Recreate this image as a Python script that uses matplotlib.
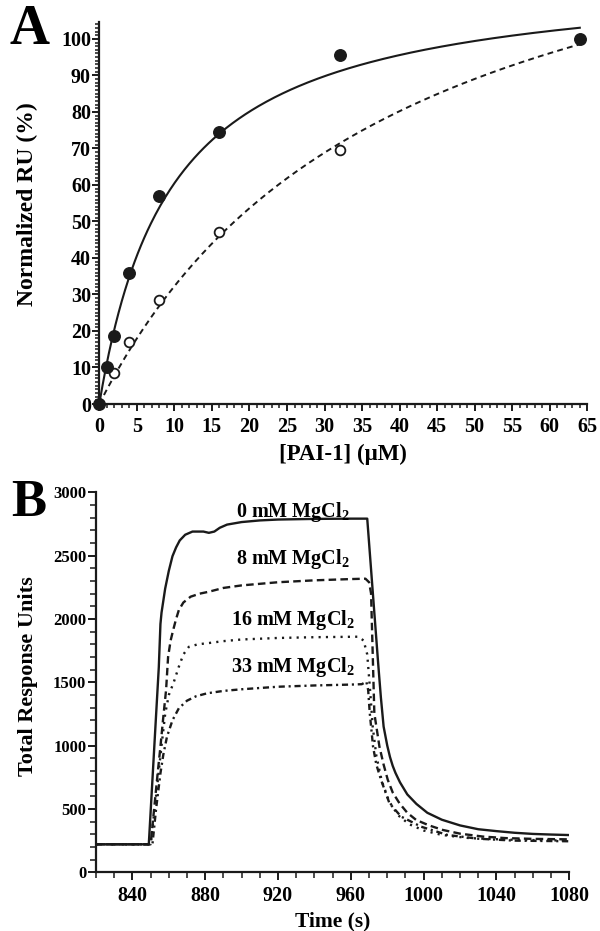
import numpy as np
import matplotlib
matplotlib.use('Agg')
import matplotlib.pyplot as plt

plt.rcParams['font.family'] = ['Liberation Serif', 'DejaVu Serif']
plt.rcParams['font.weight'] = 'bold'
plt.rcParams['mathtext.fontset'] = 'custom'
plt.rcParams['mathtext.rm'] = 'Liberation Serif:bold'
plt.rcParams['mathtext.default'] = 'rm'

# ---- panel A data: [PAI-1] (uM) vs normalized RU (%)
pai_conc = [0, 1, 2, 4, 8, 16, 32, 64]
ru_filled = [0, 10, 18.5, 36, 57, 74.5, 95.5, 100]
pai_conc_open = [2, 4, 8, 16, 32]
ru_open = [8.5, 17, 28.5, 47, 69.5]
# one-site binding fits (Bmax, Kd)
fit_filled = (118.5, 9.6)
fit_open = (159.0, 39.3)

# ---- panel B data: sensorgrams, time (s) vs total RU
t_0mm = [820, 849, 851, 853, 854.5, 855.4, 856, 858, 860, 862, 864, 866, 869, 873, 879, 882,
         885, 888, 892, 900, 910, 920, 940, 960, 969, 972, 975, 976.5, 978, 980, 981.5, 983, 984.5, 987,
         991, 996, 1002, 1010, 1020, 1030, 1040, 1050, 1060, 1070, 1080]
ru_0mm = [221, 221, 730, 1240, 1620, 1960, 2050, 2240, 2380, 2495, 2565, 2620, 2665, 2690, 2690, 2680,
          2690, 2720, 2745, 2765, 2778, 2785, 2790, 2792, 2792, 2220, 1650, 1380, 1150, 1000, 910, 840, 785, 710,
          615, 540, 470, 415, 370, 340, 325, 312, 303, 298, 294]

t_8mm = [820, 850, 852, 854, 855.4, 857, 858.5, 859.6, 861, 862.4, 864, 865.5, 868, 872, 877, 882,
         890, 900, 920, 940, 960, 968, 970, 971.1, 972.9, 975.7, 978, 980.3, 983, 986.7, 991,
         995.9, 1003, 1010.6, 1020, 1032.6, 1045, 1060, 1080]
ru_8mm = [221, 221, 510, 800, 992, 1230, 1440, 1700, 1830, 1913, 2000, 2070, 2130, 2176, 2200, 2215,
          2245, 2265, 2290, 2305, 2315, 2318, 2290, 2202, 1255, 992, 850, 729, 630, 545, 470,
          413, 370, 334, 305, 282, 270, 264, 260]

t_16mm = [820, 850, 853, 856, 858, 860, 862.7, 865.5, 868, 871, 876, 882, 890, 900, 920, 940, 964,
          967, 969, 970.5, 972, 974, 977, 981, 986, 992, 1000, 1010, 1025, 1045, 1080]
ru_16mm = [221, 221, 600, 1000, 1250, 1400, 1500, 1623, 1720, 1780, 1800, 1810, 1825, 1838, 1850, 1856, 1860,
           1830, 1720, 1450, 1150, 920, 720, 560, 450, 380, 330, 295, 270, 258, 250]

t_33mm = [820, 851, 853, 855.4, 857, 859, 862, 865.5, 870, 875, 881, 890, 900, 920, 940, 960, 966,
          968.5, 969.5, 970.4, 972.2, 974, 976.6, 981.2, 987.6, 998.6, 1013, 1030, 1050, 1080]
ru_33mm = [221, 221, 500, 782, 930, 1071, 1200, 1295, 1355, 1390, 1413, 1432, 1445, 1465, 1475, 1482, 1485,
           1505, 1440, 1255, 992, 850, 729, 545, 440, 360, 295, 265, 250, 245]

mg_labels = ['0 mM MgCl$_2$', '8 mM MgCl$_2$', '16 mM MgCl$_2$', '33 mM MgCl$_2$']
mg_label_y = [2844, 2477, 1992, 1623]

fig = plt.figure(figsize=(6, 9.31), dpi=100)


def style_axes(ax):
    for s in ['top', 'right']:
        ax.spines[s].set_visible(False)
    for s in ['left', 'bottom']:
        ax.spines[s].set_linewidth(1.6)
        ax.spines[s].set_color('#1a1a1a')


# ---------------- A
axA = fig.add_axes([99.3 / 600, 1 - 404 / 931, 488 / 600, 382.3 / 931])
style_axes(axA)
x_fit = np.linspace(0, 64, 300)
axA.plot(x_fit, fit_filled[0] * x_fit / (fit_filled[1] + x_fit), color='#1a1a1a', lw=1.5, clip_on=False)
axA.plot(x_fit, fit_open[0] * x_fit / (fit_open[1] + x_fit), color='#1a1a1a', lw=1.4,
         linestyle=(0, (3.0, 2.2)), clip_on=False)
axA.plot(pai_conc_open, ru_open, 'o', ms=7, mfc='white', mec='#1a1a1a', mew=1.3, clip_on=False, zorder=3)
axA.plot(pai_conc, ru_filled, 'o', ms=8.3, color='#1a1a1a', clip_on=False, zorder=4)
axA.set_xlim(0, 65)
axA.set_ylim(0, 104.7)
axA.set_xticks(np.arange(0, 66, 5))
axA.set_xticks(np.arange(0, 66, 1), minor=True)
axA.set_yticks(np.arange(0, 101, 10))
axA.set_yticks(np.arange(0, 105, 1), minor=True)
axA.tick_params(which='major', length=5, width=1.4, labelsize=14.5, color='#1a1a1a')
axA.tick_params(which='minor', length=3, width=1.1, color='#1a1a1a')
axA.tick_params(axis='y', which='major', pad=1)
axA.tick_params(axis='x', which='major', pad=4)

fig.text(29 / 600, 1 - 29.5 / 931, 'A', fontsize=40, ha='center', va='center')
fig.text(27 / 600, 1 - 204 / 931, 'Normalized RU (%)', fontsize=17, rotation=90, ha='center', va='center')
fig.text(343 / 600, 1 - 454 / 931, '[PAI-1] (μM)', fontsize=16.5, ha='center', va='center')

# ---------------- B
axB = fig.add_axes([96 / 600, 1 - 872.3 / 931, 473.3 / 600, 380 / 931])
style_axes(axB)
axB.plot(t_0mm, ru_0mm, color='#1a1a1a', lw=1.7)
axB.plot(t_8mm, ru_8mm, color='#1a1a1a', lw=1.7, linestyle=(0, (3.2, 1.8)))
axB.plot(t_16mm, ru_16mm, color='#1a1a1a', lw=1.7, linestyle=(0, (0.9, 2.2)))
axB.plot(t_33mm, ru_33mm, color='#1a1a1a', lw=1.7, linestyle=(0, (2.6, 1.6, 0.9, 1.6)))
for lab, yv in zip(mg_labels, mg_label_y):
    axB.text(928, yv, lab, fontsize=14.5, ha='center', va='center')
axB.set_xlim(820, 1080)
axB.set_ylim(0, 3000)
axB.set_xticks(np.arange(840, 1081, 40))
axB.set_xticks(np.arange(820, 1081, 10), minor=True)
axB.set_yticks(np.arange(0, 3001, 500))
axB.set_yticks(np.arange(0, 3001, 100), minor=True)
axB.tick_params(which='major', length=6, width=1.4, color='#1a1a1a')
axB.tick_params(which='minor', length=4, width=1.1, color='#1a1a1a')
axB.tick_params(axis='x', which='major', labelsize=14.5, pad=4)
axB.tick_params(axis='y', which='major', labelsize=12, pad=1)

fig.text(29 / 600, 1 - 502.5 / 931, 'B', fontsize=38, ha='center', va='center')
fig.text(28 / 600, 1 - 676 / 931, 'Total Response Units', fontsize=16, rotation=90, ha='center', va='center')
fig.text(333 / 600, 1 - 921 / 931, 'Time (s)', fontsize=15.5, ha='center', va='center')

fig.savefig('out.png', dpi=100)
